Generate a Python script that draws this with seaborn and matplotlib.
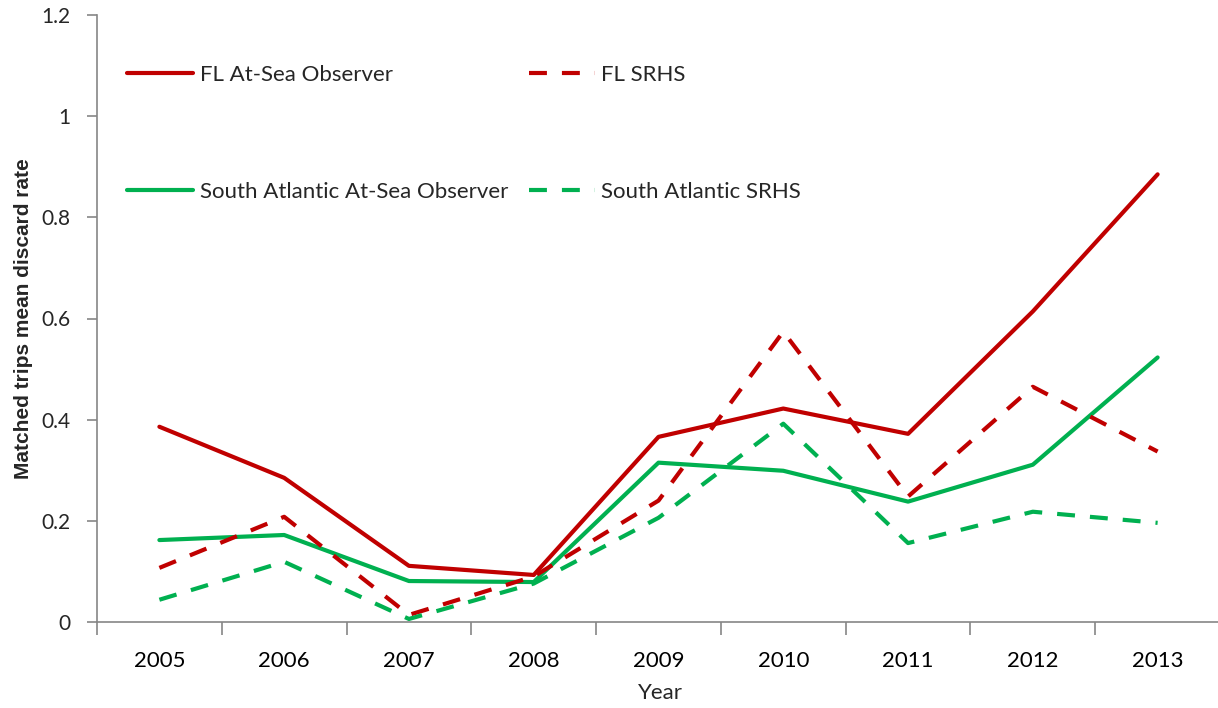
import matplotlib
matplotlib.use("Agg")
import matplotlib.pyplot as plt
from matplotlib.lines import Line2D
import seaborn as sns
import pandas as pd

years = ["2005", "2006", "2007", "2008", "2009", "2010", "2011", "2012", "2013"]
fl_observer = [0.386, 0.285, 0.111, 0.093, 0.366, 0.422, 0.372, 0.614, 0.885]
fl_srhs = [0.107, 0.208, 0.014, 0.090, 0.240, 0.574, 0.248, 0.465, 0.337]
sa_observer = [0.162, 0.172, 0.081, 0.079, 0.315, 0.299, 0.238, 0.311, 0.523]
sa_srhs = [0.044, 0.119, 0.006, 0.076, 0.206, 0.392, 0.156, 0.218, 0.196]
series_names = ["FL At-Sea Observer", "South Atlantic At-Sea Observer",
                "FL SRHS", "South Atlantic SRHS"]
yticks = [0, 0.2, 0.4, 0.6, 0.8, 1.0, 1.2]
ytick_labels = ["0", "0.2", "0.4", "0.6", "0.8", "1", "1.2"]

sns.set_style("white")
plt.rcParams["font.family"] = ["Lato", "DejaVu Sans"]

values = {
    "FL At-Sea Observer": fl_observer,
    "South Atlantic At-Sea Observer": sa_observer,
    "FL SRHS": fl_srhs,
    "South Atlantic SRHS": sa_srhs,
}
rows = []
for name in series_names:
    for i, (y, v) in enumerate(zip(years, values[name])):
        rows.append({"idx": i, "year": y, "value": v, "series": name})
df = pd.DataFrame(rows)

red = "#C00000"
green = "#00B050"
palette = {
    "FL At-Sea Observer": red,
    "FL SRHS": red,
    "South Atlantic At-Sea Observer": green,
    "South Atlantic SRHS": green,
}
dash_pat = (4.3, 3.6)
dashes = {
    "FL At-Sea Observer": "",
    "FL SRHS": dash_pat,
    "South Atlantic At-Sea Observer": "",
    "South Atlantic SRHS": dash_pat,
}
LW = 3.0

fig = plt.figure(figsize=(12.18, 7.08), dpi=100)
ax = fig.add_axes([97 / 1218, 1 - 622 / 708, 1123 / 1218, 607 / 708])

sns.lineplot(data=df, x="idx", y="value", hue="series", style="series",
             hue_order=series_names, style_order=series_names,
             palette=palette, dashes=dashes, linewidth=LW, ax=ax,
             legend=False)

ax.set_xlim(-0.5, 8.5)
ax.set_ylim(0, 1.2)
ax.set_yticks(yticks)
ax.set_yticklabels(ytick_labels)
ax.set_xticks(range(len(years)))
ax.set_xticklabels(years)
ax.set_xticks([i - 0.5 for i in range(len(years) + 1)], minor=True)
ax.tick_params(axis="x", which="major", length=0, pad=21, labelsize=16, colors="black")
ax.tick_params(axis="x", which="minor", length=9, width=1.2, color="#868686", direction="out")
ax.tick_params(axis="y", which="major", length=7, width=1.2, color="#868686", direction="out",
               labelsize=15, pad=12)
ax.tick_params(axis="x", which="both", bottom=True)
ax.tick_params(axis="y", left=True)

for s in ["top", "right"]:
    ax.spines[s].set_visible(False)
for s in ["left", "bottom"]:
    ax.spines[s].set_color("#868686")
    ax.spines[s].set_linewidth(1.2)

ax.set_xlabel("Year", fontsize=16)
ax.xaxis.set_label_coords((660 - 97) / 1123, -(693 - 622) / 607)
ax.xaxis.label.set_va("center")
ax.set_ylabel("Matched trips mean discard rate", fontsize=15,
              family=["Liberation Sans", "DejaVu Sans"], fontweight="bold")
ax.yaxis.set_label_coords(-(97 - 24) / 1123, (622 - 319) / 607)
ax.yaxis.label.set_va("center")

handles = []
for name in series_names:
    ls = "-" if dashes[name] == "" else (0, dashes[name])
    handles.append(Line2D([0], [0], color=palette[name], linewidth=LW, linestyle=ls))
ax.legend(handles, series_names, ncol=2, frameon=False, loc="upper left",
          bbox_to_anchor=(0.027, 0.918), borderaxespad=0, borderpad=0,
          fontsize=16, handlelength=2.97, handletextpad=0.28,
          labelspacing=4.36, columnspacing=0.95)

fig.savefig("out.png", dpi=100)
